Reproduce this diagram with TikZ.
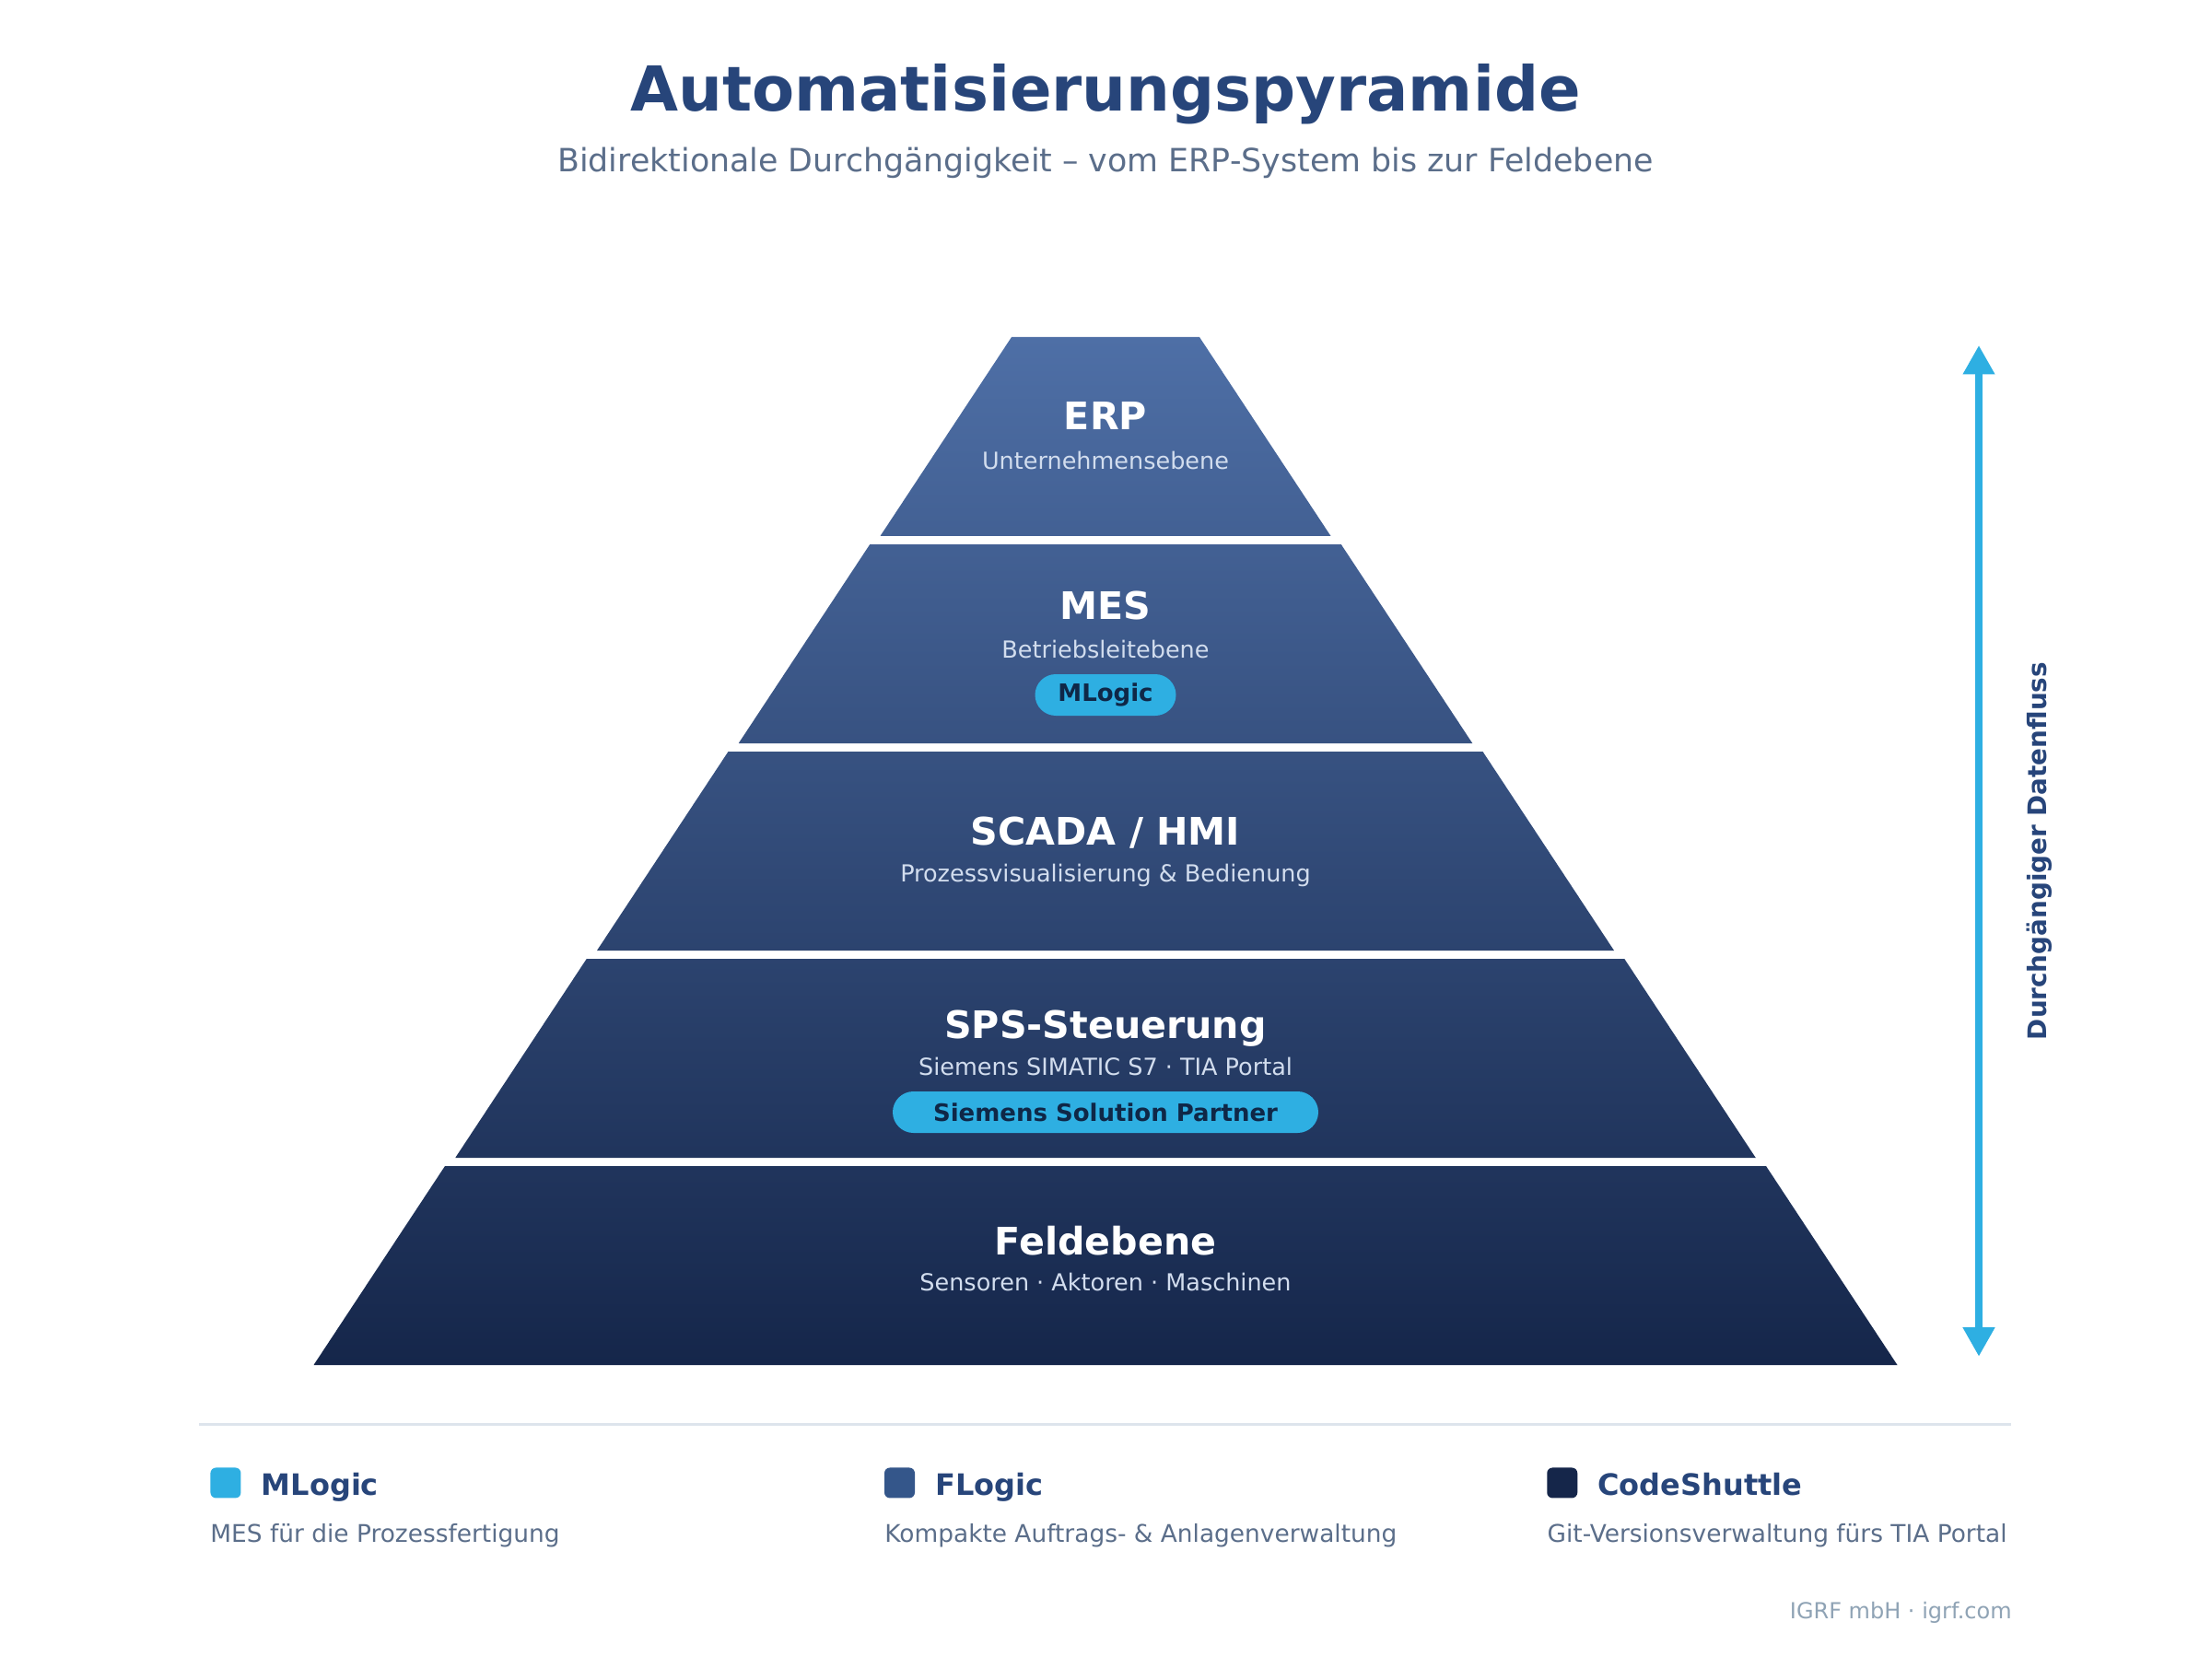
\documentclass[tikz,border=0pt]{standalone}
\usepackage{fontspec}
\setmainfont{DejaVu Sans}
\usepackage{xcolor}
\usepackage{tikz}
\usetikzlibrary{arrows.meta}
\definecolor{navyblue}{HTML}{27457A}
\definecolor{slategrey}{HTML}{5B6E8A}
\definecolor{pyrtop}{HTML}{4E6FA6}
\definecolor{pyrbot}{HTML}{15264A}
\definecolor{paleblue}{HTML}{D2DDEE}
\definecolor{igrfcyan}{HTML}{2EAFE2}
\definecolor{badgeink}{HTML}{0F2747}
\definecolor{flogicblue}{HTML}{34568A}
\definecolor{rulegrey}{HTML}{DDE4EC}
\definecolor{footgrey}{HTML}{8FA3B5}

\begin{document}
\begin{tikzpicture}[x=0.75pt, y=-0.75pt,
          ttl/.style={font=\fontsize{33.6}{40}\selectfont\bfseries, text=navyblue,
                      anchor=base, inner sep=0pt},
          subttl/.style={font=\fontsize{17.4}{20}\selectfont, text=slategrey,
                      anchor=base, inner sep=0pt},
          laytitle/.style={font=\fontsize{20.6}{24}\selectfont\bfseries, text=white,
                      anchor=base, inner sep=0pt},
          laysub/.style={font=\fontsize{12.75}{15}\selectfont, text=paleblue,
                      anchor=base, inner sep=0pt},
          badge/.style={rectangle, rounded corners=11.25pt, fill=igrfcyan, text=badgeink,
                      font=\fontsize{13}{15}\selectfont\bfseries, inner sep=0pt,
                      minimum height=22.5pt},
          legsq/.style={rectangle, rounded corners=3pt, minimum size=16.5pt, inner sep=0pt},
          leglab/.style={font=\fontsize{16}{19}\selectfont\bfseries, text=navyblue,
                      anchor=base west, inner sep=0pt},
          legdesc/.style={font=\fontsize{13.2}{16}\selectfont, text=slategrey,
                      anchor=base west, inner sep=0pt},
          flowarr/.style={{Triangle[length=15.75pt,width=16.5pt]}-{Triangle[length=15.75pt,width=16.5pt]},
                      line width=3.7pt, igrfcyan}
        ]
        \fill[white] (0,0) rectangle (1600,1216);
        \useasboundingbox (0,0) rectangle (1600,1216);

        % Titel
        \node[ttl] (title) at (800,80.5) {Automatisierungspyramide};
        \node[subttl] (subtitle) at (800,124.5) {Bidirektionale Durchgängigkeit – vom ERP-System bis zur Feldebene};

        % Pyramide
        \shade[top color=pyrtop, bottom color=pyrbot!20!pyrtop]
          (732,244) -- (868,244) -- (963,388) -- (637,388) -- cycle;
        \shade[top color=pyrbot!20!pyrtop, bottom color=pyrbot!40!pyrtop]
          (629.5,394) -- (970.5,394) -- (1065.5,538) -- (534.5,538) -- cycle;
        \shade[top color=pyrbot!40!pyrtop, bottom color=pyrbot!60!pyrtop]
          (527,544) -- (1073,544) -- (1168,688) -- (432,688) -- cycle;
        \shade[top color=pyrbot!60!pyrtop, bottom color=pyrbot!80!pyrtop]
          (424.5,694) -- (1175.5,694) -- (1270.5,838) -- (329.5,838) -- cycle;
        \shade[top color=pyrbot!80!pyrtop, bottom color=pyrbot]
          (322,844) -- (1278,844) -- (1373,988) -- (227,988) -- cycle;

        \node[laytitle] (erp) at (800,311) {ERP};
        \node[laysub] (erpsub) at (800,339.5) {Unternehmensebene};

        \node[laytitle] (mes) at (800,448) {MES};
        \node[laysub] (messub) at (800,476) {Betriebsleitebene};
        \node[badge, minimum width=76.5pt] (mesbadge) at (800,503) {MLogic};

        \node[laytitle] (scada) at (800,611.5) {SCADA / HMI};
        \node[laysub] (scadasub) at (800,638.5) {Prozessvisualisierung \& Bedienung};

        \node[laytitle] (sps) at (800,751.5) {SPS-Steuerung};
        \node[laysub] (spssub) at (800,778.5) {Siemens SIMATIC S7 · TIA Portal};
        \node[badge, minimum width=231pt] (spsbadge) at (800,805) {Siemens Solution Partner};

        \node[laytitle] (feld) at (800,908) {Feldebene};
        \node[laysub] (feldsub) at (800,934.5) {Sensoren · Aktoren · Maschinen};

        % Datenfluss
        \coordinate (flowtop) at (1432,250);
        \coordinate (flowbot) at (1432,981.8);
        \draw[flowarr] (flowbot) -- (flowtop);
        \node[rotate=90, font=\fontsize{13.9}{16}\selectfont\bfseries, text=navyblue] (flowlab)
          at (1475.5,616) {Durchgängiger Datenfluss};

        % Legende
        \draw[rulegrey, line width=1.5pt] (144,1031) -- (1455,1031);

        \node[legsq, fill=igrfcyan] (sqmlogic) at (163.3,1073.3) {};
        \node[leglab] (labmlogic) at (189,1082) {MLogic};
        \node[legdesc] (descmlogic) at (152,1116.5) {MES für die Prozessfertigung};

        \node[legsq, fill=flogicblue] (sqflogic) at (651,1073.3) {};
        \node[leglab] (labflogic) at (676.5,1082) {FLogic};
        \node[legdesc] (descflogic) at (640,1116.5) {Kompakte Auftrags- \& Anlagenverwaltung};

        \node[legsq, fill=pyrbot] (sqcode) at (1130.5,1073.3) {};
        \node[leglab] (labcode) at (1156,1082) {CodeShuttle};
        \node[legdesc] (desccode) at (1119.5,1116.5) {Git-Versionsverwaltung fürs TIA Portal};

        \node[font=\fontsize{12}{14}\selectfont, text=footgrey, anchor=base east, inner sep=0pt]
          (footer) at (1456,1171.5) {IGRF mbH · igrf.com};
      \end{tikzpicture}
\end{document}
